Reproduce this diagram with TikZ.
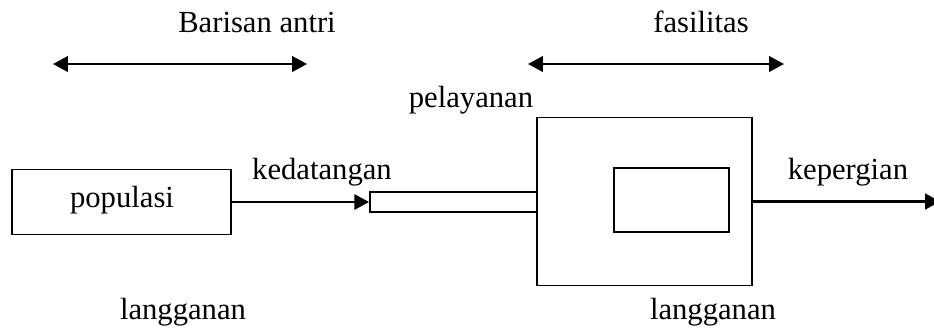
\documentclass[tikz,border=0pt]{standalone}
\usepackage{fontspec}
\setmainfont{Liberation Serif}
\usetikzlibrary{arrows.meta}

\begin{document}
\begin{tikzpicture}[x=0.025cm, y=-0.025cm,
	kasten/.style={draw, line width=1.3pt, inner sep=0pt},
	schrift/.style={font=\fontsize{21.8}{26}\selectfont, inner sep=0pt},
	pfeil/.style={line width=1.3pt, -{Triangle[length=10.5pt, width=11pt]}},
	doppelpfeil/.style={line width=1.3pt, {Triangle[length=10.5pt, width=11pt]}-{Triangle[length=10.5pt, width=11pt]}}]

	\useasboundingbox (0,0) rectangle (934,331);

	% Zeichnet die Beschriftungen oben
	\node[schrift] (antri) at (257,22) {Barisan antri};
	\node[schrift] (fasilitas) at (701,22) {fasilitas};
	\node[schrift] (pelayanan) at (471,100) {pelayanan};

	% Zeichnet die Doppelpfeile unter den Beschriftungen
	\coordinate (antri_links) at (53,64);
	\coordinate (antri_rechts) at (307,64);
	\draw[doppelpfeil] (antri_links) -- (antri_rechts);

	\coordinate (fasilitas_links) at (528,64);
	\coordinate (fasilitas_rechts) at (784,64);
	\draw[doppelpfeil] (fasilitas_links) -- (fasilitas_rechts);

	% Zeichnet den Kasten der Population
	\node[kasten, minimum width=5.475cm, minimum height=1.625cm] (populasi) at (121.5,202) {};
	\node[schrift] (populasi_text) at (122,200) {populasi};

	% Zeichnet die Warteschlange (schmaler Kasten)
	\node[kasten, minimum width=4.175cm, minimum height=0.5cm] (antrian) at (453.5,202) {};

	% Zeichnet die Bedienstelle aussen und innen
	\node[kasten, minimum width=5.375cm, minimum height=4.2cm] (layanan) at (644.5,201.5) {};
	\node[kasten, minimum width=2.875cm, minimum height=1.6cm] (pelayan) at (671.5,200) {};

	% Zeichnet Pfeil der Ankunft
	\draw[pfeil] (populasi.east) -- (antrian.west);
	\node[schrift] (kedatangan) at (322,172) {kedatangan};

	% Zeichnet Pfeil des Abgangs
	\coordinate (ausgang) at (940,201.5);
	\draw[pfeil, line width=2pt] (layanan.east) -- (ausgang);
	\node[schrift] (kepergian) at (848,172) {kepergian};

	% Zeichnet die Beschriftungen unten
	\node[schrift] (langganan_links) at (183,312) {langganan};
	\node[schrift] (langganan_rechts) at (713,312) {langganan};

\end{tikzpicture}
\end{document}
